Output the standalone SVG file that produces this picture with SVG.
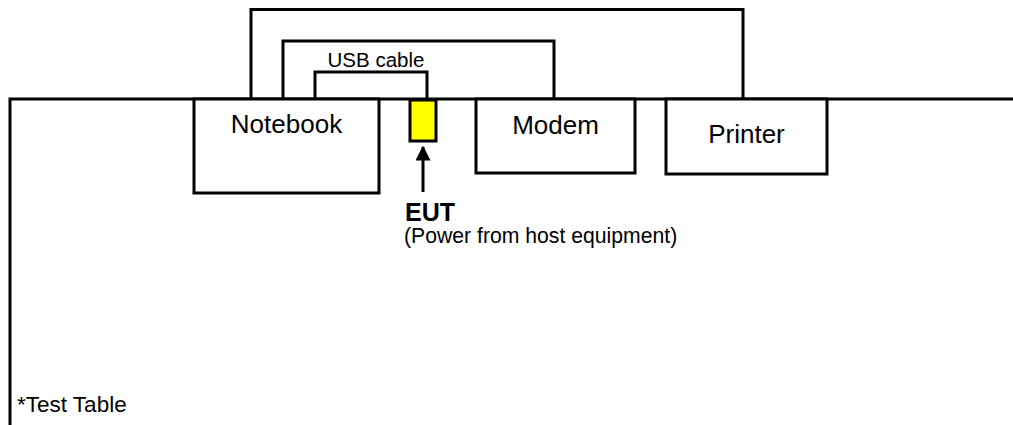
<svg xmlns="http://www.w3.org/2000/svg" width="1013" height="425" viewBox="0 0 1013 425">
<style>
.ln{fill:none;stroke:#000;stroke-width:3;stroke-linejoin:miter}
.box{fill:#fff;stroke:#000;stroke-width:3}
.t{font-family:"Liberation Sans",Arial,sans-serif;fill:#000}
</style>
<defs>
<marker id="ah" viewBox="0 0 10 10" refX="9" refY="5" markerWidth="5" markerHeight="5" markerUnits="strokeWidth" orient="auto">
<path d="M0,0 L10,5 L0,10 z" fill="#000"/>
</marker>
</defs>
<rect width="1013" height="425" fill="#fff"/>
<g id="table">
<path class="ln" d="M10,425 V99 H1013"/>
<text class="t" x="17" y="412" font-size="22.5">*Test Table</text>
</g>
<g id="connectors">
<path class="ln" d="M251,99 V9.5 H743 V99"/>
<path class="ln" d="M283,99 V41 H554 V99"/>
<path class="ln" d="M315,99 V72 H427 V100"/>
<text class="t" x="376" y="67" font-size="20.5" text-anchor="middle">USB cable</text>
<line class="ln" x1="423" y1="192" x2="423" y2="147" marker-end="url(#ah)"/>
</g>
<g id="notebook">
<rect class="box" x="194" y="99" width="185" height="94"/>
<text class="t" x="286.5" y="133" font-size="26" text-anchor="middle">Notebook</text>
</g>
<g id="modem">
<rect class="box" x="476" y="99" width="159" height="74"/>
<text class="t" x="555.5" y="134" font-size="26" text-anchor="middle">Modem</text>
</g>
<g id="printer">
<rect class="box" x="666" y="99" width="161" height="75"/>
<text class="t" x="746.5" y="143" font-size="26" text-anchor="middle">Printer</text>
</g>
<g id="eut">
<rect x="410" y="100" width="26" height="41" fill="#ffff00" stroke="#000" stroke-width="3"/>
<text class="t" x="405" y="221" font-size="25" font-weight="bold">EUT</text>
<text class="t" x="404" y="243" font-size="21.2">(Power from host equipment)</text>
</g>
</svg>
